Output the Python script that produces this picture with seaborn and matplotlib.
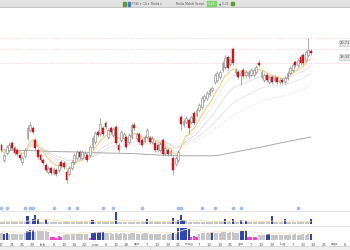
import numpy as np
import pandas as pd
import matplotlib
matplotlib.use("Agg")
import matplotlib.pyplot as plt
import seaborn as sns
from matplotlib.patches import Rectangle

sns.set_style("white")
plt.rcParams['font.family'] = ['DejaVu Sans']

# ---------------- data ----------------
opens = [10.5, 9.0, 9.7, 10.0, 10.7, 10.2, 10.0, 9.5, 8.8, 9.4,
         11.2, 12.0, 12.2, 11.0, 10.0, 9.5, 9.0, 8.5, 7.8, 8.2,
         7.7, 8.0, 8.0, 8.8, 8.7, 7.8, 7.6, 8.2, 8.8, 9.2,
         9.8, 9.2, 9.3, 9.5, 9.5, 10.3, 10.8, 11.8, 11.6, 12.2,
         12.7, 11.3, 12.2, 11.5, 12.3, 10.5, 11.0, 11.2, 11.3, 10.8,
         11.3, 12.5, 11.2, 11.6, 11.0, 10.9, 11.3, 11.2, 10.8, 10.7,
         10.5, 10.0, 11.0, 9.7, 10.0, 9.6, 9.2, 8.6, 9.0, 13.3,
         12.5, 12.8, 13.0, 12.8, 13.7, 13.5, 14.0, 14.3, 15.0, 15.2,
         15.6, 16.0, 16.8, 17.0, 17.3, 18.0, 18.3, 19.3, 18.6, 20.1,
         17.7, 17.8, 17.5, 18.0, 17.5, 17.4, 17.5, 17.5, 17.8, 18.7,
         17.3, 17.0, 17.5, 16.8, 17.3, 17.0, 17.2, 16.8, 17.0, 16.8,
         17.2, 17.7, 18.0, 18.8, 18.5, 19.3, 19.5, 19.0, 19.5, 19.9]
closes = [10.0, 9.5, 10.3, 10.5, 10.2, 9.7, 9.6, 9.2, 9.2, 10.0,
          12.2, 12.5, 11.8, 10.2, 9.3, 9.0, 8.7, 8.0, 8.2, 7.7,
          8.1, 7.6, 8.5, 8.4, 8.3, 7.0, 8.2, 8.8, 9.5, 9.8,
          9.3, 9.8, 9.7, 9.0, 10.3, 11.2, 11.7, 11.5, 12.6, 11.6,
          12.3, 12.0, 11.8, 12.1, 10.7, 10.0, 11.8, 11.6, 10.3, 11.5,
          12.5, 12.2, 11.6, 10.8, 10.5, 11.3, 12.0, 10.8, 11.2, 10.0,
          10.0, 10.6, 9.6, 10.2, 9.6, 9.9, 8.0, 9.2, 9.8, 12.6,
          12.9, 13.2, 12.2, 13.3, 12.7, 14.0, 14.5, 15.2, 15.4, 15.7,
          16.0, 16.2, 17.5, 17.7, 17.8, 18.7, 19.2, 18.2, 19.0, 18.7,
          18.0, 17.3, 17.7, 17.4, 17.8, 17.8, 18.0, 18.0, 18.3, 18.5,
          17.8, 17.5, 17.0, 17.3, 16.8, 17.3, 16.8, 17.0, 16.8, 17.2,
          17.7, 18.2, 18.5, 18.5, 19.0, 18.7, 18.7, 19.8, 20.0, 19.7]
highs = [10.7, 9.7, 10.5, 10.8, 10.9, 10.4, 10.2, 9.7, 9.4, 10.2,
         12.5, 12.8, 12.4, 11.2, 10.2, 9.7, 9.2, 8.7, 8.4, 8.4,
         8.3, 8.2, 8.7, 9.0, 8.9, 8.0, 8.4, 9.0, 9.7, 10.0,
         10.0, 10.0, 9.9, 9.7, 10.5, 11.4, 11.9, 12.0, 13.2, 12.4,
         12.9, 12.2, 12.4, 12.3, 12.5, 10.7, 12.0, 11.8, 11.5, 11.7,
         12.7, 12.8, 11.8, 11.8, 11.2, 11.5, 12.2, 11.4, 11.4, 10.9,
         10.7, 10.8, 11.2, 10.4, 10.2, 10.1, 9.4, 9.4, 10.0, 13.5,
         13.1, 13.4, 13.2, 13.5, 13.9, 14.2, 14.7, 15.4, 15.6, 15.9,
         16.2, 16.4, 17.7, 17.9, 18.0, 18.9, 19.5, 19.5, 19.2, 20.3,
         18.2, 18.0, 17.9, 18.2, 18.0, 18.0, 18.2, 18.2, 18.5, 19.0,
         18.0, 17.7, 17.7, 17.5, 17.5, 17.5, 17.4, 17.2, 17.2, 17.4,
         17.9, 18.4, 18.7, 19.0, 19.2, 19.5, 19.7, 20.0, 21.2, 20.1]
lows = [9.8, 8.8, 9.5, 9.8, 10.0, 9.5, 9.4, 9.0, 8.5, 9.2,
        11.0, 11.8, 11.6, 10.0, 9.1, 8.8, 8.5, 7.8, 7.6, 7.5,
        7.5, 7.4, 7.8, 8.2, 8.1, 6.7, 7.4, 8.0, 8.6, 9.0,
        9.1, 9.0, 9.1, 8.8, 9.3, 10.1, 10.6, 11.3, 11.4, 11.4,
        12.1, 11.1, 11.6, 11.3, 10.5, 9.8, 10.8, 11.0, 10.1, 10.6,
        11.1, 12.0, 11.0, 10.6, 10.3, 10.7, 11.1, 10.6, 10.6, 9.8,
        9.8, 9.8, 9.4, 9.5, 9.4, 9.4, 7.5, 8.4, 8.8, 12.0,
        12.3, 12.6, 11.6, 12.6, 12.5, 13.3, 13.8, 14.1, 14.8, 15.0,
        15.4, 15.8, 16.6, 16.8, 17.1, 17.8, 18.1, 18.0, 18.4, 18.5,
        17.5, 17.1, 16.5, 17.2, 17.3, 17.2, 17.3, 17.3, 17.6, 18.3,
        17.1, 16.8, 16.8, 16.6, 16.6, 16.8, 16.6, 16.6, 16.6, 16.6,
        17.0, 17.5, 17.8, 18.3, 18.3, 18.5, 18.5, 18.8, 19.3, 19.5]

# long moving average, sampled
long_ma_idx = [0, 10, 20, 30, 40, 50, 60, 66, 70, 80, 83, 90, 100, 110, 119]
long_ma_val = [10.0, 9.95, 9.85, 9.8, 9.7, 9.65, 9.5, 9.45, 9.42, 9.42, 9.45, 9.8, 10.3, 10.85, 11.3]

volumes = [22, 25, 20, 24, 26, 23, 21, 24, 27, 25,
           80, 26, 50, 90, 50, 24, 22, 50, 25, 23,
           22, 24, 21, 25, 23, 27, 24, 22, 25, 23,
           24, 22, 26, 23, 25, 40, 24, 22, 27, 25,
           23, 22, 24, 26, 120, 25, 22, 24, 23, 21,
           22, 24, 23, 25, 22, 23, 50, 24, 22, 21,
           23, 22, 24, 25, 23, 24, 60, 25, 40, 90,
           40, 26, 24, 23, 25, 22, 24, 23, 25, 24,
           22, 23, 25, 24, 26, 23, 50, 24, 25, 50,
           24, 23, 40, 25, 32, 23, 22, 24, 21, 23,
           22, 24, 23, 25, 80, 24, 22, 23, 24, 50,
           23, 22, 24, 25, 23, 22, 24, 25, 23, 50]

strength = [70, 65, 68, 62, 60, 65, 63, 60, 62, 66,
            95, 100, 98, 85, 88, 90, 86, 88, 85, 35,
            30, 25, 38, 32, 55, 60, 58, 62, 60, 65,
            63, 60, 62, 58, 20, 75, 80, 78, 76, 80,
            70, 68, 72, 65, 70, 62, 68, 66, 60, 64,
            66, 70, 65, 62, 58, 66, 70, 62, 64, 58,
            60, 62, 55, 58, 56, 60, 70, 62, 120, 125,
            122, 118, 115, 35, 40, 32, 65, 70, 72, 68,
            70, 80, 75, 72, 74, 76, 78, 75, 80, 78,
            75, 72, 90, 92, 88, 30, 28, 32, 30, 50,
            52, 55, 60, 62, 55, 52, 54, 50, 55, 52,
            55, 50, 54, 56, 52, 55, 58, 54, 56, 60]
signal = list("gbbggggggg" "bbbggggggm" "mmmmgggggg" "ggggmbbbbb" "gggggggggg"
              "gggggggggg" "ggggggbgbb" "bbbmmmgggg" "gbgggggggg" "ggbbbmmmmg"
              "ggbbgggggg" "gggggggggb")

event_idx = [0, 2, 9, 11, 12, 20, 26, 29, 39, 43, 54, 68, 69, 77, 82, 89, 92, 114]

tick_pos = list(range(0, 133, 4))
tick_labels = ["17", "21", "25", "29", "feb", "6", "10", "14", "20", "mar",
               "6", "12", "18", "apr", "7", "13", "19", "25", "mag", "7",
               "13", "19", "25", "giu", "7", "13", "19", "lug", "7", "13",
               "19", "25", "ago", "6"]

price_tags = [20.71, 19.33]
ref_levels = [21.2, 20.1, 18.7]

# ---------------- layout ----------------
W, H = 350, 250
fig = plt.figure(figsize=(3.5, 2.5), dpi=100)
fig.patch.set_facecolor("white")


def box(x0, y0, x1, y1):
    return [x0 / W, 1 - y1 / H, (x1 - x0) / W, (y1 - y0) / H]


XL = (-1.5 / 2.6, (350 - 1.5) / 2.6)
n = len(closes)
idx = np.arange(n)
df = pd.DataFrame({"i": idx, "o": opens, "c": closes, "h": highs, "l": lows,
                   "v": volumes, "s": strength, "sig": signal})

# toolbar
tb = fig.add_axes(box(0, 0, 350, 8))
tb.set_xlim(0, 350); tb.set_ylim(8, 0); tb.axis("off")
tb.add_patch(Rectangle((0, 0), 350, 7.5, color="#e2e2e2"))
tb.add_patch(Rectangle((0, 7), 350, 1, color="#c8c8c8"))
tb.add_patch(Rectangle((123, 1.5), 3, 4, color="#5aa02c"))
tb.add_patch(Rectangle((128, 1.5), 2, 4, color="#4a7bd0"))
for x, t in [(132, "FTSE ▾"), (143, "1G ▾"), (151, "Media ▾"), (176, "Media Mobile Sempl.")]:
    tb.text(x, 3.8, t, fontsize=2.1, color="#555", va="center")
tb.add_patch(Rectangle((207, 1.2), 9, 5, color="#7fd36b"))
tb.text(211.5, 3.8, "+1,2%", fontsize=1.9, color="white", va="center", ha="center")
tb.text(219, 3.8, "▲ 0,31", fontsize=2.1, color="#555", va="center")
tb.add_patch(Rectangle((231, 2), 3, 3, color="#5aa02c"))

# main price panel
ax = fig.add_axes(box(0, 8, 350, 205))
ax.set_xlim(*XL)
ax.set_ylim(4.5, 24.2)
ax.axis("off")

for lv in ref_levels:
    ax.axhline(lv, color="#f3b4b4", lw=0.5, ls=(0, (1, 1.5)), zorder=1)

# moving averages
ma_styles = [(60, "#eeeeee"), (35, "#e2e2e2"), (20, "#dcdcdc"), (12, "#e8e8e8")]
for span, col in ma_styles:
    m = df["c"].ewm(span=span).mean()
    sns.lineplot(x=df["i"], y=m, ax=ax, color=col, lw=0.6, zorder=2)
sns.lineplot(x=long_ma_idx, y=long_ma_val, ax=ax, color="#a8a8a8", lw=0.7, zorder=2)
ema8 = df["c"].ewm(span=8).mean()
sns.lineplot(x=df["i"], y=ema8, ax=ax, color="#f5c86a", lw=0.7, zorder=3)

up = df["c"] >= df["o"]
ax.vlines(df["i"], df["l"], df["h"], color="#8a8a8a", lw=0.5, zorder=4)
body_lo = np.minimum(df["o"], df["c"])
body_h = np.maximum(np.abs(df["c"] - df["o"]), 0.08)
ax.bar(df["i"][up], body_h[up], bottom=body_lo[up], width=0.72,
       color="white", edgecolor="#8a8a8a", lw=0.45, zorder=5)
ax.bar(df["i"][~up], body_h[~up], bottom=body_lo[~up], width=0.72,
       color="#e3141b", edgecolor="#b01015", lw=0.3, zorder=5)

for p in price_tags:
    ax.text(XL[1] - 0.1, p, f"{p:.2f}".replace(".", ","), fontsize=2.6, color="#444",
            ha="right", va="center",
            bbox=dict(boxstyle="square,pad=0.25", fc="#e6e6e6", ec="#bdbdbd", lw=0.4),
            zorder=6)

# volume panel
av = fig.add_axes(box(0, 205, 350, 225))
av.set_xlim(*XL)
av.set_ylim(-10, 190)
av.axis("off")
av.axhline(133, color="#d8d8d8", lw=0.5)
hi = df["v"] > 30
av.bar(df["i"][~hi], df["v"][~hi], width=0.8, color="#c4c4c4", lw=0)
av.bar(df["i"][hi], df["v"][hi], width=0.8, color="#2f45b5", lw=0)
vavg = df["v"].rolling(10, min_periods=1).mean()
sns.lineplot(x=df["i"], y=vavg, ax=av, color="#f5dfb0", lw=0.6)
sns.scatterplot(x=event_idx, y=[160] * len(event_idx), ax=av, s=5,
                color="#a9c4f0", edgecolor="#7fa3e0", linewidth=0.3)

# strength panel
a2 = fig.add_axes(box(0, 225, 350, 240))
a2.set_xlim(*XL)
a2.set_ylim(0, 150)
for s in a2.spines.values():
    s.set_visible(False)
a2.axhline(140, color="#d8d8d8", lw=0.5)
pal = {"g": "#c6c6c6", "b": "#2f45b5", "m": "#ff3fc8"}
for key, col in pal.items():
    sub = df[df["sig"] == key]
    a2.bar(sub["i"], sub["s"], width=0.8, color=col, lw=0)
savg = df["s"].rolling(8, min_periods=1).mean() + 15
sns.lineplot(x=df["i"], y=savg, ax=a2, color="#f7e6c4", lw=0.6)
a2.set_yticks([])
a2.set_xticks(tick_pos)
a2.set_xticklabels(tick_labels, fontsize=2.8, color="#555")
a2.tick_params(axis="x", length=0, pad=1.8)
a2.set_xlabel(""); a2.set_ylabel("")
ax.set_xlabel(""); ax.set_ylabel("")
av.set_xlabel(""); av.set_ylabel("")

# bottom strip
bs = fig.add_axes(box(0, 246, 350, 250))
bs.set_xlim(0, 350); bs.set_ylim(0, 4); bs.axis("off")
bs.add_patch(Rectangle((0, 0), 350, 4, color="#efefef"))
bs.axhline(4, color="#cfcfcf", lw=0.5)
bs.axvline(150, color="#cfcfcf", lw=0.5)

fig.savefig("out.png", dpi=100)
